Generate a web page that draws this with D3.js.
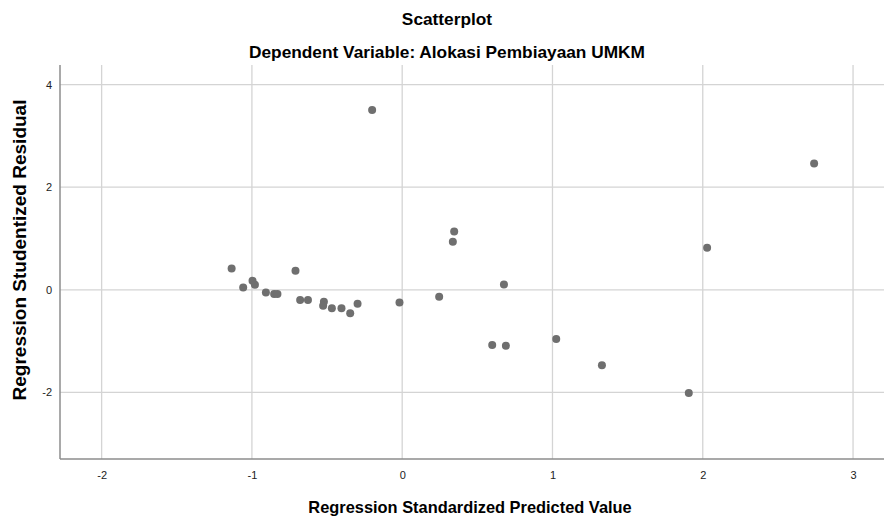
<!DOCTYPE html>
<html>
<head>
<meta charset="utf-8">
<script src="https://cdn.jsdelivr.net/npm/d3@7"></script>
<style>
  body { margin: 0; background: #fff; }
  svg { font-family: "Liberation Sans", Arial, sans-serif; }
  .grid line { stroke: #d4d4d4; stroke-width: 1.3; }
  .axis path { stroke: #8c8c8c; stroke-width: 1.5; }
  .axis text { fill: #222; font-size: 11px; }
</style>
</head>
<body>
<div id="chart"></div>
<script>
// standardized predicted value (x) vs studentized residual (y)
var predicted = [-1.135, -1.058, -0.996, -0.980, -0.907, -0.852, -0.830, -0.710,
  -0.679, -0.627, -0.521, -0.526, -0.468, -0.404, -0.346, -0.297, -0.018, -0.200,
  0.346, 0.337, 0.246, 0.677, 0.599, 0.690, 1.025, 1.329, 2.029, 2.741, 1.907];
var residual = [0.415, 0.045, 0.175, 0.097, -0.050, -0.080, -0.080, 0.370,
  -0.200, -0.200, -0.234, -0.310, -0.357, -0.357, -0.454, -0.273, -0.247, 3.505,
  1.135, 0.935, -0.136, 0.103, -1.077, -1.090, -0.960, -1.470, 0.820, 2.460, -2.010];
var xTicks = [-2, -1, 0, 1, 2, 3];
var yTicks = [-2, 0, 2, 4];

var width = 884, height = 521;
var margin = {top: 65, right: 0, bottom: 62, left: 60};

var x = d3.scaleLinear()
  .domain([-2.277, 3.206])
  .range([margin.left, width - margin.right]);

var y = d3.scaleLinear()
  .domain([-3.297, 4.382])
  .range([height - margin.bottom, margin.top]);

var svg = d3.select("#chart").append("svg")
  .attr("width", width)
  .attr("height", height);

// gridlines
svg.append("g")
  .attr("class", "grid")
  .selectAll("line.v")
  .data(xTicks)
  .enter().append("line")
  .attr("x1", d => x(d)).attr("x2", d => x(d))
  .attr("y1", margin.top).attr("y2", height - margin.bottom);

svg.append("g")
  .attr("class", "grid")
  .selectAll("line.h")
  .data(yTicks)
  .enter().append("line")
  .attr("x1", margin.left).attr("x2", width - margin.right)
  .attr("y1", d => y(d)).attr("y2", d => y(d));

// axes (plain hyphen for negatives, like the original)
svg.append("g")
  .attr("class", "axis")
  .attr("transform", "translate(0," + (height - margin.bottom) + ")")
  .call(d3.axisBottom(x).tickValues(xTicks).tickSize(0).tickPadding(12).tickFormat(d => String(d)))
  .call(g => g.select(".domain").attr("d", "M" + margin.left + ",0H" + width));

svg.append("g")
  .attr("class", "axis")
  .attr("transform", "translate(" + margin.left + ",0)")
  .call(d3.axisLeft(y).tickValues(yTicks).tickSize(0).tickPadding(8).tickFormat(d => String(d)))
  .call(g => g.select(".domain").attr("d", "M0," + margin.top + "V" + (height - margin.bottom)));

// points
svg.append("g")
  .selectAll("circle")
  .data(predicted)
  .enter().append("circle")
  .attr("cx", d => x(d))
  .attr("cy", (d, i) => y(residual[i]))
  .attr("r", 4)
  .attr("fill", "#6f6f6f");

// titles
svg.append("text")
  .attr("x", 447).attr("y", 25)
  .attr("text-anchor", "middle")
  .attr("font-size", "17.3px").attr("font-weight", "bold")
  .attr("fill", "#000")
  .text("Scatterplot");

svg.append("text")
  .attr("x", 447).attr("y", 58)
  .attr("text-anchor", "middle")
  .attr("font-size", "17.3px").attr("font-weight", "bold")
  .attr("fill", "#000")
  .text("Dependent Variable: Alokasi Pembiayaan UMKM");

svg.append("text")
  .attr("x", 470).attr("y", 513)
  .attr("text-anchor", "middle")
  .attr("font-size", "16.4px").attr("font-weight", "bold")
  .attr("fill", "#000")
  .text("Regression Standardized Predicted Value");

svg.append("text")
  .attr("transform", "translate(26,250) rotate(-90)")
  .attr("text-anchor", "middle")
  .attr("font-size", "19px").attr("font-weight", "bold")
  .attr("fill", "#000")
  .text("Regression Studentized Residual");
</script>
</body>
</html>
